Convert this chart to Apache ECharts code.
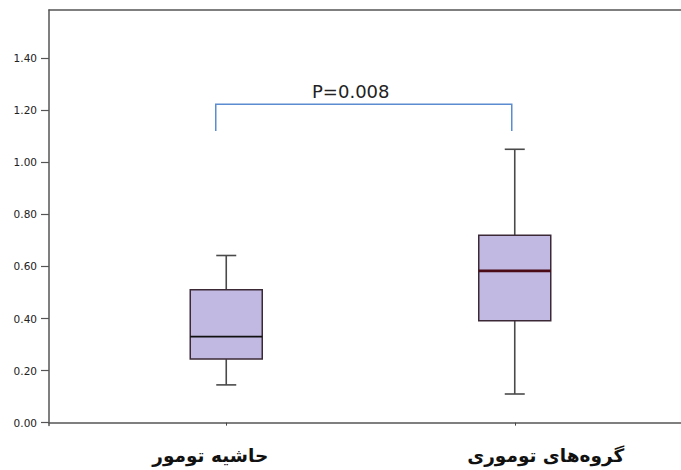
<!DOCTYPE html>
<html>
<head>
<meta charset="utf-8">
<script src="https://cdn.jsdelivr.net/npm/echarts@6/dist/echarts.min.js"></script>
<style>
html,body{margin:0;padding:0;background:#fff;overflow:hidden;}
#chart{width:681px;height:470px;}
</style>
</head>
<body>
<div id="chart"></div>
<script>
// ---- data ----
const categories = ['حاشیه تومور', 'گروه\u200cهای توموری'];
const whiskerLow  = [0.145, 0.110];
const q1          = [0.244, 0.391];
const median      = [0.330, 0.583];
const q3          = [0.510, 0.720];
const whiskerHigh = [0.642, 1.050];
const yTicks = [0, 0.2, 0.4, 0.6, 0.8, 1.0, 1.2, 1.4];
const bracketY = [1.12, 1.223];     // bracket leg bottom, bracket top
const pLabel = 'P=0.008';

// ---- styles ----
const BOX_W = 72, CAP_W = 20;
const medianColors = ['#111111', '#4a0a16'];
const medianWidths = [1.8, 2.6];
const Y_MIN = -0.011, Y_MAX = 1.585;
const frameLine = {show: true, lineStyle: {color: '#555', width: 1.5}};

const chart = echarts.init(document.getElementById('chart'), null, {renderer: 'svg'});

const boxData = categories.map((c, i) => [i, whiskerLow[i], q1[i], median[i], q3[i], whiskerHigh[i]]);

chart.setOption({
  animation: false,
  backgroundColor: '#fff',
  grid: [
    {left: 49, right: 0, top: 10, bottom: 44.5},
    {left: 82, right: 22, top: 10, bottom: 44.5}
  ],
  xAxis: [
    {gridIndex: 0, type: 'value', min: 0, max: 1, position: 'bottom',
     axisLine: frameLine, axisTick: {show: false}, axisLabel: {show: false}, splitLine: {show: false}},
    {gridIndex: 0, type: 'value', min: 0, max: 1, position: 'top',
     axisLine: frameLine, axisTick: {show: false}, axisLabel: {show: false}, splitLine: {show: false}},
    {gridIndex: 1, type: 'category', data: categories,
     axisLine: {show: false},
     axisTick: {show: true, alignWithLabel: true, length: 3, lineStyle: {color: '#444', width: 1}},
     axisLabel: {
       margin: 20,
       formatter: (v, idx) => '{l' + idx + '|' + v + '}',
       rich: {
         l0: {fontSize: 18.5, fontWeight: 'bold', fontFamily: 'DejaVu Sans', color: '#111', padding: [0, 32, 0, 0]},
         l1: {fontSize: 18.5, fontWeight: 'bold', fontFamily: 'DejaVu Sans', color: '#111', padding: [0, 0, 0, 62]}
       }
     },
     splitLine: {show: false}}
  ],
  yAxis: [
    {gridIndex: 0, type: 'value', min: Y_MIN, max: Y_MAX,
     axisLine: frameLine,
     axisTick: {show: true, length: 8, customValues: yTicks, lineStyle: {color: '#555', width: 1.2}},
     axisLabel: {customValues: yTicks, formatter: v => v.toFixed(2), margin: 12,
                 fontSize: 10.5, fontFamily: 'DejaVu Sans', color: '#222'},
     splitLine: {show: false}},
    {gridIndex: 1, type: 'value', min: Y_MIN, max: Y_MAX, show: false, splitLine: {show: false}}
  ],
  series: [
    {
      type: 'custom',
      name: 'boxes',
      xAxisIndex: 2, yAxisIndex: 1,
      data: boxData,
      encode: {x: 0, y: [1, 2, 3, 4, 5]},
      renderItem: function (params, api) {
        const i = api.value(0);
        const x = api.coord([i, 0])[0];
        const yLo = api.coord([i, api.value(1)])[1];
        const yQ1 = api.coord([i, api.value(2)])[1];
        const yMed = api.coord([i, api.value(3)])[1];
        const yQ3 = api.coord([i, api.value(4)])[1];
        const yHi = api.coord([i, api.value(5)])[1];
        const hw = BOX_W / 2, cw = CAP_W / 2;
        const ws = {stroke: '#4a4a4a', lineWidth: 1.6};
        return {
          type: 'group',
          children: [
            {type: 'line', shape: {x1: x, y1: yHi, x2: x, y2: yQ3}, style: ws},
            {type: 'line', shape: {x1: x - cw, y1: yHi, x2: x + cw, y2: yHi}, style: ws},
            {type: 'line', shape: {x1: x, y1: yQ1, x2: x, y2: yLo}, style: ws},
            {type: 'line', shape: {x1: x - cw, y1: yLo, x2: x + cw, y2: yLo}, style: ws},
            {type: 'rect', shape: {x: x - hw, y: yQ3, width: BOX_W, height: yQ1 - yQ3},
             style: {fill: '#c1b9e2', stroke: '#3b2a36', lineWidth: 1.5}},
            {type: 'line', shape: {x1: x - hw, y1: yMed, x2: x + hw, y2: yMed},
             style: {stroke: medianColors[i], lineWidth: medianWidths[i]}}
          ]
        };
      }
    },
    {
      type: 'custom',
      name: 'bracket',
      xAxisIndex: 2, yAxisIndex: 1,
      data: [[0, 1, bracketY[0], bracketY[1]]],
      encode: {x: [0, 1], y: [2, 3]},
      renderItem: function (params, api) {
        const xa = api.coord([api.value(0), 0])[0] - 10.5;
        const xb = api.coord([api.value(1), 0])[0] - 3;
        const yLow = api.coord([0, api.value(2)])[1];
        const yTop = api.coord([0, api.value(3)])[1];
        const st = {stroke: '#5b8bd0', lineWidth: 1.5, fill: null};
        return {
          type: 'group',
          children: [
            {type: 'polyline', shape: {points: [[xa, yLow], [xa, yTop], [xb, yTop], [xb, yLow]]}, style: st},
            {type: 'text', style: {text: pLabel, x: (xa + xb) / 2 - 13, y: yTop - 4,
              align: 'center', verticalAlign: 'bottom', fontSize: 18, fontFamily: 'DejaVu Sans', fill: '#222'}}
          ]
        };
      }
    }
  ]
});
</script>
</body>
</html>
